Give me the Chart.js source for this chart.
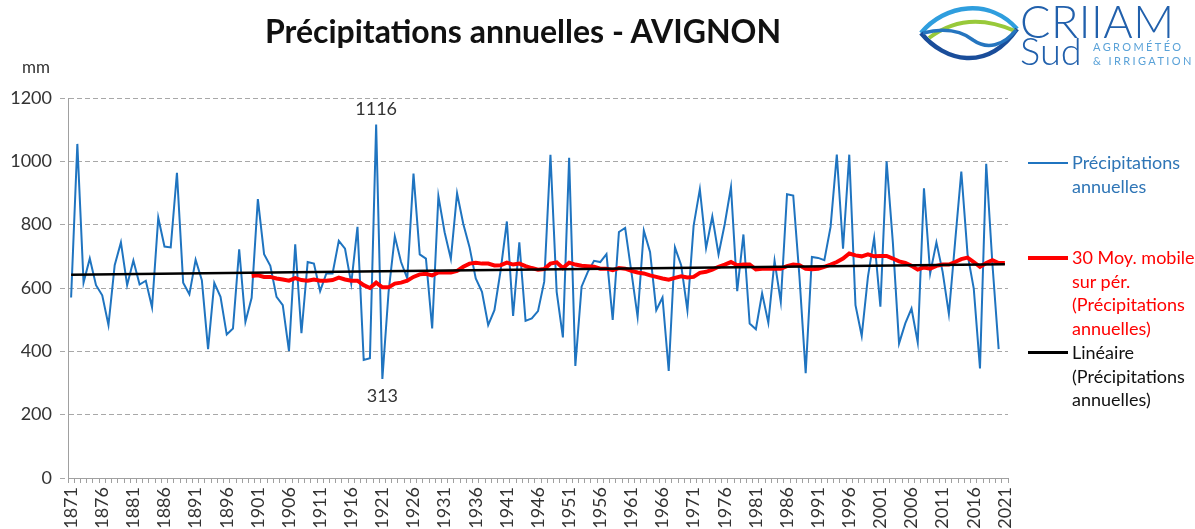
<!DOCTYPE html>
<html>
<head>
<meta charset="utf-8">
<script src="https://cdn.jsdelivr.net/npm/chart.js@4.4.1/dist/chart.umd.min.js"></script>
<style>
  body { margin: 0; background: #fff; font-family: Lato, "Open Sans", sans-serif; }
  #wrap { position: relative; width: 1195px; height: 529px; overflow: hidden; }
  #c { position: absolute; left: 0; top: 0; }
  .title { position: absolute; left: 0; width: 1046px; top: 11px; text-align: center;
           font-size: 32px; font-weight: bold; color: #111; }
  .unit { position: absolute; left: 22px; top: 56px; font-size: 17px; color: #333; }
  .leg { position: absolute; left: 1072px; font-size: 18px; line-height: 23.7px; }
  .sw { position: absolute; left: 1028px; width: 40px; }
  .logo-big { position: absolute; left: 1020px; top: -6px; font-size: 45px; font-weight: 300; color: #2160ac; letter-spacing: 0.5px; }
  .logo-sud { position: absolute; left: 1020px; top: 27px; font-size: 38px; font-weight: 300; color: #2160ac; }
  .logo-small { position: absolute; left: 1093px; font-size: 11px; letter-spacing: 2.4px; color: #5aa2d8; }
</style>
</head>
<body>
<div id="wrap">
  <canvas id="c" width="1195" height="529"></canvas>
  <div class="title">Précipitations annuelles - AVIGNON</div>
  <div class="unit">mm</div>

  <svg style="position:absolute;left:915px;top:0" width="108" height="70" viewBox="0 0 108 70">
    <path d="M6,33 C30,4 75,-2 102,29" fill="none" stroke="#2f9ede" stroke-width="4.5"/>
    <path d="M6,33 C30,62 72,72 102,29" fill="none" stroke="#1a4d9a" stroke-width="4.5"/>
    <path d="M14,38 C35,22 62,14 100,31" fill="none" stroke="#98c93a" stroke-width="4"/>
    <path d="M8,33 C28,28 45,30 58,40 C72,50 88,46 101,30" fill="none" stroke="#2575bf" stroke-width="3.5"/>
  </svg>
  <div class="logo-big">CRIIAM</div>
  <div class="logo-sud">Sud</div>
  <div class="logo-small" style="top:40px">AGROMÉTÉO</div>
  <div class="logo-small" style="top:54px">&amp; IRRIGATION</div>

  <div class="sw" style="top:162px;height:2px;background:#1f74c0"></div>
  <div class="leg" style="top:151px;color:#2e75b6">Précipitations<br>annuelles</div>
  <div class="sw" style="top:256px;height:4px;background:#ff0000"></div>
  <div class="leg" style="top:246px;color:#ff0000">30 Moy. mobile<br>sur pér.<br>(Précipitations<br>annuelles)</div>
  <div class="sw" style="top:351px;height:3px;background:#000"></div>
  <div class="leg" style="top:341px;color:#111">Linéaire<br>(Précipitations<br>annuelles)</div>
</div>

<script>
// years on the category axis
const years = [];
for (let y = 1871; y <= 2021; y++) years.push(String(y));

// annual precipitation (mm), 1871 -> 2020 (2021 has no value)
const precip = [
  570, 1055, 617, 693, 609, 577, 483, 672, 744, 609,
  687, 611, 623, 539, 822, 731, 728, 964, 617, 580,
  689, 625, 407, 616, 572, 453, 472, 722, 493, 569,
  881, 707, 670, 572, 546, 401, 738, 457, 682, 677,
  590, 646, 646, 749, 724, 614, 793, 373, 378, 1116,
  313, 588, 763, 682, 630, 961, 706, 693, 472, 890,
  776, 692, 899, 802, 729, 630, 588, 483, 530, 656,
  810, 512, 744, 496, 504, 527, 620, 1021, 588, 444,
  1011, 354, 604, 651, 686, 682, 707, 499, 777, 790,
  651, 509, 781, 714, 530, 570, 338, 728, 672, 530,
  797, 912, 726, 826, 706, 802, 919, 590, 769, 488,
  470, 583, 490, 686, 556, 896, 892, 635, 331, 698,
  695, 688, 793, 1021, 724, 1021, 546, 449, 635, 758,
  541, 1000, 745, 425, 488, 535, 428, 915, 646, 744,
  651, 518, 745, 968, 707, 598, 346, 992, 675, 407,
  null
];

// 30-year moving average, 1900 -> 2021
const movingStart = 1900;
const moving = [
  638, 640, 635, 635, 630, 627, 623, 631, 625, 623,
  627, 623, 623, 625, 633, 627, 623, 623, 609, 600,
  617, 602, 602, 614, 617, 623, 635, 643, 645, 640,
  649, 649, 649, 654, 667, 677, 680, 677, 677, 671,
  672, 680, 674, 677, 669, 663, 658, 660, 677, 681,
  663, 680, 674, 670, 669, 667, 661, 661, 656, 663,
  661, 654, 649, 646, 640, 635, 630, 626, 632, 637,
  633, 635, 648, 651, 658, 667, 674, 682, 672, 674,
  674, 659, 661, 661, 661, 661, 669, 674, 672, 661,
  659, 661, 667, 674, 682, 693, 709, 703, 700, 706,
  700, 701, 701, 693, 684, 679, 670, 658, 665, 661,
  670, 674, 674, 682, 691, 696, 682, 667, 679, 688,
  679, 679
];

// linear trend end values
const trendYears = ['1871', '2021'];
const trendValues = [642, 675];

const labeled = ['1920', '1921'];

const pointLabels = {
  id: 'pointLabels',
  afterDatasetsDraw(chart) {
    const ctx = chart.ctx;
    const meta = chart.getDatasetMeta(0);
    ctx.save();
    ctx.font = '18px Lato, sans-serif';
    ctx.fillStyle = '#333';
    ctx.textAlign = 'center';
    ctx.textBaseline = 'middle';
    labeled.forEach((yr, k) => {
      const i = years.indexOf(yr);
      const pt = meta.data[i];
      const dy = k === 0 ? -15 : 17;
      ctx.fillText(String(precip[i]), pt.x, pt.y + dy);
    });
    ctx.restore();
  }
};

new Chart(document.getElementById('c'), {
  type: 'line',
  data: {
    labels: years,
    datasets: [
      {
        label: 'Précipitations annuelles',
        data: precip,
        borderColor: '#1f74c0',
        borderWidth: 2,
        pointRadius: 0,
        tension: 0,
        order: 3
      },
      {
        label: '30 Moy. mobile sur pér. (Précipitations annuelles)',
        data: moving.map((v, i) => ({ x: String(movingStart + i), y: v })),
        borderColor: '#ff0000',
        borderWidth: 4,
        pointRadius: 0,
        tension: 0,
        order: 2
      },
      {
        label: 'Linéaire (Précipitations annuelles)',
        data: trendYears.map((x, i) => ({ x: x, y: trendValues[i] })),
        borderColor: '#000',
        borderWidth: 2.5,
        pointRadius: 0,
        order: 1
      }
    ]
  },
  options: {
    responsive: false,
    animation: false,
    layout: { padding: { top: 98, right: 187, left: 0, bottom: 0 } },
    plugins: { legend: { display: false }, tooltip: { enabled: false } },
    scales: {
      x: {
        offset: true,
        afterFit(scale) { scale.height = 51; },
        grid: { offset: true, drawOnChartArea: false, drawTicks: true, tickLength: 5, color: '#a0a0a0' },
        border: { display: true, color: '#a0a0a0' },
        ticks: {
          autoSkip: false,
          minRotation: 90,
          maxRotation: 90,
          padding: 4,
          color: '#333',
          font: { family: 'Lato', size: 18 },
          callback(value, index) {
            return (index % 5 === 0) ? years[index] : '';
          }
        }
      },
      y: {
        min: 0,
        max: 1200,
        afterFit(scale) { scale.width = 68; },
        grid: { color: '#a8a8a8', tickLength: 8, tickBorderDash: [5, 3] },
        border: { display: true, color: '#a0a0a0', dash: [5, 3] },
        ticks: {
          stepSize: 200, padding: 8, color: '#333', font: { family: 'Lato', size: 18 },
          callback(value) { return String(value); }
        }
      }
    }
  },
  plugins: [pointLabels]
});
</script>
</body>
</html>
